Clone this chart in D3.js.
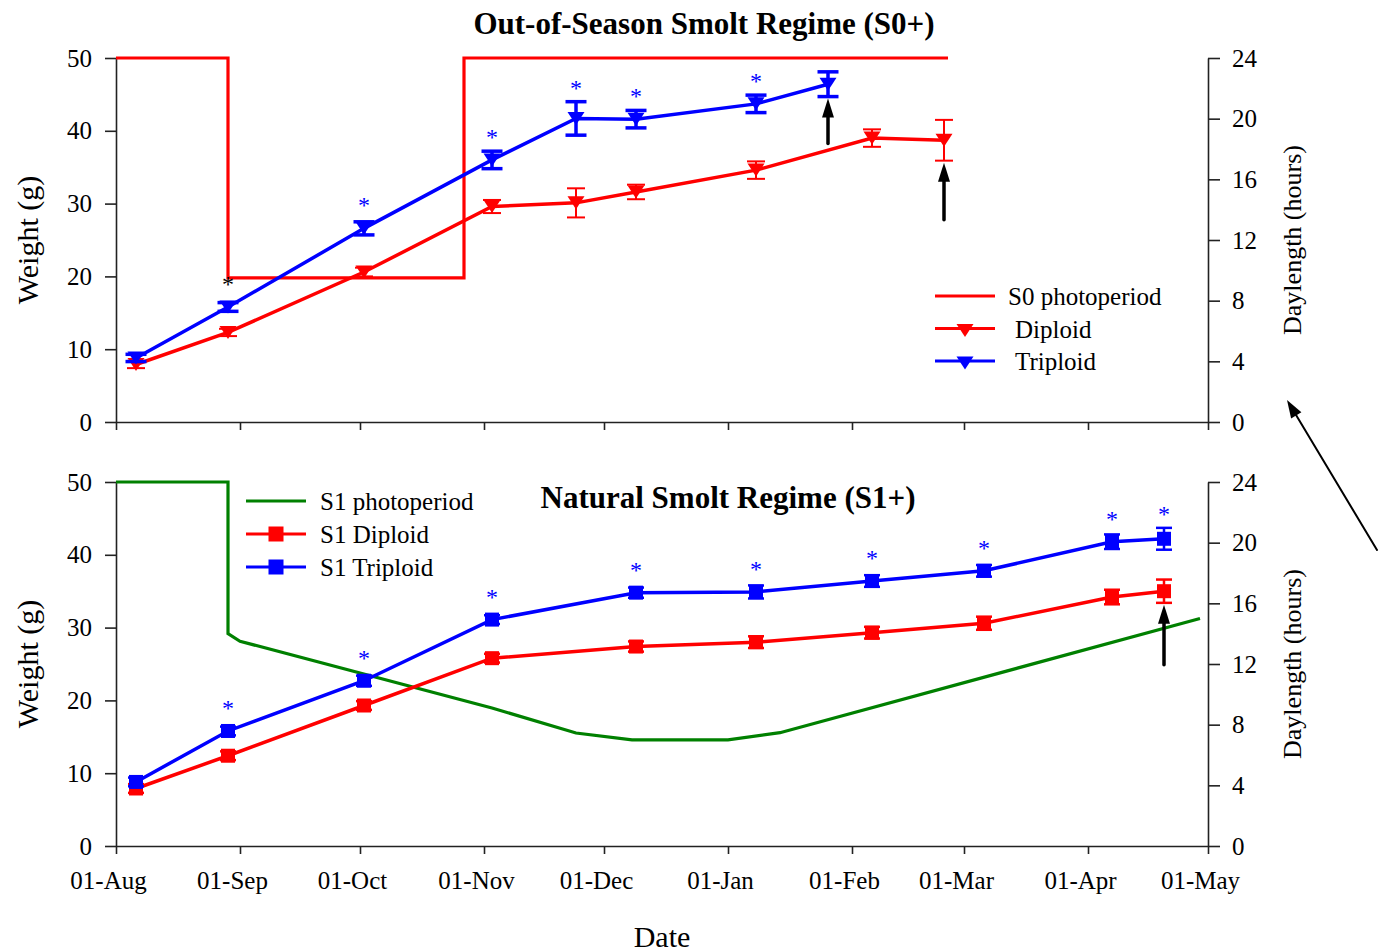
<!DOCTYPE html>
<html><head><meta charset="utf-8">
<script src="https://cdn.jsdelivr.net/npm/d3@7"></script>
<style>
body{margin:0;background:#fff}
svg{display:block}
text{font-family:"Liberation Serif","Times New Roman",Times,serif}
</style>
</head><body>
<svg id="chart" width="1379" height="952"></svg>
<script>
// ---------------- DATA ----------------
const monthTickDates = ["2005-08-01","2005-09-01","2005-10-01","2005-11-01","2005-12-01","2006-01-01","2006-02-01","2006-03-01","2006-04-01","2006-05-01"];
const monthTickLabels = ["01-Aug","01-Sep","01-Oct","01-Nov","01-Dec","01-Jan","01-Feb","01-Mar","01-Apr","01-May"];
const weightTicks = [0,10,20,30,40,50];
const hourTicks = [0,4,8,12,16,20,24];

// Top panel: Out-of-Season Smolt Regime (S0+)
const s0PhotoDates = ["2005-08-01","2005-08-29","2005-08-29","2005-10-27","2005-10-27","2006-02-25"];
const s0PhotoHours = [24,24,9.5,9.5,24,24];
const s0DiploidDates = ["2005-08-06","2005-08-29","2005-10-02","2005-11-03","2005-11-24","2005-12-09","2006-01-08","2006-02-06","2006-02-24"];
const s0DiploidMean = [7.9,12.3,20.6,29.6,30.1,31.6,34.6,39.0,38.7];
const s0DiploidErr  = [0.5,0.5,0.6,0.9,2.0,1.0,1.2,1.2,2.8];
const s0TriploidDates = ["2005-08-06","2005-08-29","2005-10-02","2005-11-03","2005-11-24","2005-12-09","2006-01-08","2006-01-26"];
const s0TriploidMean = [8.8,15.8,26.6,36.0,41.7,41.6,43.7,46.4];
const s0TriploidErr  = [0.5,0.6,0.9,1.2,2.3,1.2,1.2,1.7];
const s0TriploidSig  = [null,"#000000","#0000ff","#0000ff","#0000ff","#0000ff","#0000ff",null];

// Bottom panel: Natural Smolt Regime (S1+)
const s1PhotoDates = ["2005-08-01","2005-08-29","2005-08-29","2005-09-01","2005-11-03","2005-11-24","2005-12-08","2006-01-01","2006-01-14","2006-04-29"];
const s1PhotoHours = [24,24,14.0,13.5,9.1,7.45,7.0,7.0,7.47,15.0];
const s1Dates = ["2005-08-06","2005-08-29","2005-10-02","2005-11-03","2005-12-09","2006-01-08","2006-02-06","2006-03-06","2006-04-07","2006-04-20"];
const s1DiploidMean = [7.9,12.4,19.3,25.8,27.4,28.0,29.3,30.6,34.2,35.0];
const s1DiploidErr  = [0.6,0.6,0.6,0.6,0.7,0.8,0.8,0.9,1.0,1.6];
const s1TriploidMean = [8.8,15.8,22.7,31.1,34.8,34.9,36.4,37.8,41.8,42.2];
const s1TriploidErr  = [0.6,0.6,0.7,0.6,0.7,0.9,0.8,0.8,1.0,1.5];
const s1TriploidSig  = [null,"#0000ff","#0000ff","#0000ff","#0000ff","#0000ff","#0000ff","#0000ff","#0000ff","#0000ff"];

const topTitle = "Out-of-Season Smolt Regime (S0+)";
const bottomTitle = "Natural Smolt Regime (S1+)";
const topLegend = ["S0 photoperiod","Diploid","Triploid"];
const bottomLegend = ["S1 photoperiod","S1 Diploid","S1 Triploid"];
const yLeftTitle = "Weight (g)";
const yRightTitle = "Daylength (hours)";
const xTitle = "Date";

// ---------------- LAYOUT ----------------
const RED="#ff0000", BLUE="#0000ff", GREEN="#008000", AX="#222";
const parse = d3.utcParse("%Y-%m-%d");
const svg = d3.select("#chart");
const X0=116, X1=1208;
const x = d3.scaleUtc().domain([parse(monthTickDates[0]), parse(monthTickDates[monthTickDates.length-1])]).range([X0,X1]);

function triPath(w,h){return `M${-w/2},${-h/2}L${w/2},${-h/2}L0,${h/2}Z`;}

function arrow(g,x1,y1,x2,y2,sw,hl,hw){
  const dx=x2-x1, dy=y2-y1, L=Math.hypot(dx,dy), ux=dx/L, uy=dy/L;
  const bx=x2-ux*hl, by=y2-uy*hl;
  g.append("line").attr("x1",x1).attr("y1",y1).attr("x2",bx+ux*1).attr("y2",by+uy*1)
    .attr("stroke","#000").attr("stroke-width",sw).attr("stroke-linecap","round");
  g.append("path").attr("d",`M${x2},${y2}L${bx-uy*hw/2},${by+ux*hw/2}L${bx+uy*hw/2},${by-ux*hw/2}Z`).attr("fill","#000");
}

function panel(cfg){
  const g = svg.append("g");
  const yW = d3.scaleLinear().domain([0,50]).range([cfg.bottom,cfg.top]);
  const yH = d3.scaleLinear().domain([0,24]).range([cfg.bottom,cfg.top]);

  // axes
  const ax = d3.axisBottom(x).tickValues(monthTickDates.map(parse)).tickSize(8).tickSizeOuter(0).tickPadding(17)
    .tickFormat((d,i)=> cfg.labels ? monthTickLabels[i] : "");
  const gx = g.append("g").attr("transform",`translate(0,${cfg.bottom})`).call(ax);
  gx.selectAll("text").attr("x",-8).style("font-size","25px");
  const gl = g.append("g").attr("transform",`translate(${X0},0)`)
    .call(d3.axisLeft(yW).tickValues(weightTicks).tickSize(11).tickPadding(13).tickSizeOuter(0));
  gl.selectAll("text").style("font-size","25px");
  const gr = g.append("g").attr("transform",`translate(${X1},0)`)
    .call(d3.axisRight(yH).tickValues(hourTicks).tickSize(12).tickPadding(12).tickSizeOuter(0));
  gr.selectAll("text").style("font-size","25px");
  g.selectAll(".domain, .tick line").attr("stroke",AX).attr("stroke-width",1.6);
  g.selectAll(".tick text").attr("fill","#000").style("font-family",'"Liberation Serif","Times New Roman",serif');

  // axis titles
  g.append("text").attr("transform",`translate(38,${(cfg.top+cfg.bottom)/2}) rotate(-90)`)
    .attr("text-anchor","middle").style("font-size","30px").style("fill","#000").text(yLeftTitle);
  g.append("text").attr("transform",`translate(1301,${(cfg.top+cfg.bottom)/2}) rotate(-90)`)
    .attr("text-anchor","middle").style("font-size","26px").style("fill","#000").text(yRightTitle);

  // photoperiod
  const photo = cfg.photoDates.map((d,i)=>({d:parse(d),v:cfg.photoHours[i]}));
  g.append("path").datum(photo).attr("fill","none").attr("stroke",cfg.photoColor).attr("stroke-width",3.2)
    .attr("stroke-linejoin","miter")
    .attr("d",d3.line().x(p=>x(p.d)).y(p=>yH(p.v)));

  // series
  cfg.series.forEach(s=>{
    const pts = s.dates.map((d,i)=>({d:parse(d),v:s.mean[i],e:s.err[i],sig:s.sig?s.sig[i]:null}));
    g.append("path").datum(pts).attr("fill","none").attr("stroke",s.color).attr("stroke-width",3.5)
      .attr("d",d3.line().x(p=>x(p.d)).y(p=>yW(p.v)));
    s.pts=pts;
  });
  cfg.series.forEach(s=>{
    const eg = g.append("g").attr("stroke",s.color).attr("stroke-width",s.errW);
    s.pts.forEach(p=>{
      const cx=x(p.d), y1=yW(p.v+p.e), y2=yW(p.v-p.e);
      eg.append("line").attr("x1",cx).attr("x2",cx).attr("y1",y1).attr("y2",y2);
      eg.append("line").attr("x1",cx-s.capW/2).attr("x2",cx+s.capW/2).attr("y1",y1).attr("y2",y1);
      eg.append("line").attr("x1",cx-s.capW/2).attr("x2",cx+s.capW/2).attr("y1",y2).attr("y2",y2);
    });
    s.pts.forEach(p=>{
      const cx=x(p.d), cy=yW(p.v);
      if(cfg.marker==="tri") g.append("path").attr("d",triPath(17,13)).attr("transform",`translate(${cx},${cy})`).attr("fill",s.color);
      else g.append("rect").attr("x",cx-7).attr("y",cy-7).attr("width",14).attr("height",14).attr("fill",s.color);
      if(p.sig){
        const c = Math.min(cy-26, yW(p.v+p.e)-17);
        g.append("text").attr("x",cx).attr("y",c+11).attr("text-anchor","middle")
          .style("font-size","24px").style("fill",p.sig).text("*");
      }
    });
  });

  // arrows
  cfg.arrows.forEach(a=>{
    const s = cfg.series[a.series], p = s.pts[a.idx];
    const tip = yW(p.v-p.e)+2;
    arrow(g,x(p.d),tip+a.len,x(p.d),tip,3.5,19,12);
  });

  // title
  g.append("text").attr("x",cfg.titleX).attr("y",cfg.titleY).attr("text-anchor","middle")
    .style("font-size","31px").style("font-weight","bold").style("fill","#000").text(cfg.title);

  // legend
  const lg = g.append("g");
  cfg.legend.forEach((lab,i)=>{
    const ly = cfg.legY + i*cfg.legDy;
    const col = i===0 ? cfg.photoColor : cfg.series[i-1].color;
    lg.append("line").attr("x1",cfg.legX).attr("x2",cfg.legX+60).attr("y1",ly).attr("y2",ly)
      .attr("stroke",col).attr("stroke-width",3);
    if(i>0){
      if(cfg.marker==="tri") lg.append("path").attr("d",triPath(17,13)).attr("transform",`translate(${cfg.legX+30},${ly+2})`).attr("fill",col);
      else lg.append("rect").attr("x",cfg.legX+30-7.5).attr("y",ly-7.5).attr("width",15).attr("height",15).attr("fill",col);
    }
    lg.append("text").attr("x",cfg.legX+cfg.legTx[i]).attr("y",ly+9).style("font-size","25px").style("fill","#000").text(lab);
  });
}

panel({top:58,bottom:422,labels:false,photoDates:s0PhotoDates,photoHours:s0PhotoHours,photoColor:RED,marker:"tri",
  series:[{dates:s0DiploidDates,mean:s0DiploidMean,err:s0DiploidErr,color:RED,errW:2,capW:18},
          {dates:s0TriploidDates,mean:s0TriploidMean,err:s0TriploidErr,sig:s0TriploidSig,color:BLUE,errW:3.5,capW:21}],
  arrows:[{series:1,idx:7,len:45},{series:0,idx:8,len:57}],
  title:topTitle,titleX:704,titleY:34,legend:topLegend,legX:935,legY:296,legDy:32.5,legTx:[73,80,80]});

panel({top:482,bottom:846,labels:true,photoDates:s1PhotoDates,photoHours:s1PhotoHours,photoColor:GREEN,marker:"sq",
  series:[{dates:s1Dates,mean:s1DiploidMean,err:s1DiploidErr,color:RED,errW:2.5,capW:16},
          {dates:s1Dates,mean:s1TriploidMean,err:s1TriploidErr,sig:s1TriploidSig,color:BLUE,errW:2.5,capW:16}],
  arrows:[{series:0,idx:9,len:60}],
  title:bottomTitle,titleX:728,titleY:508,legend:bottomLegend,legX:246,legY:501,legDy:33,legTx:[74,74,74]});

// x-axis title
svg.append("text").attr("x",662).attr("y",947).attr("text-anchor","middle").style("font-size","30px").style("fill","#000").text(xTitle);

// big annotation arrow between panels
arrow(svg.append("g"),1377,550,1287,400,2,18,12);
</script>
</body></html>
